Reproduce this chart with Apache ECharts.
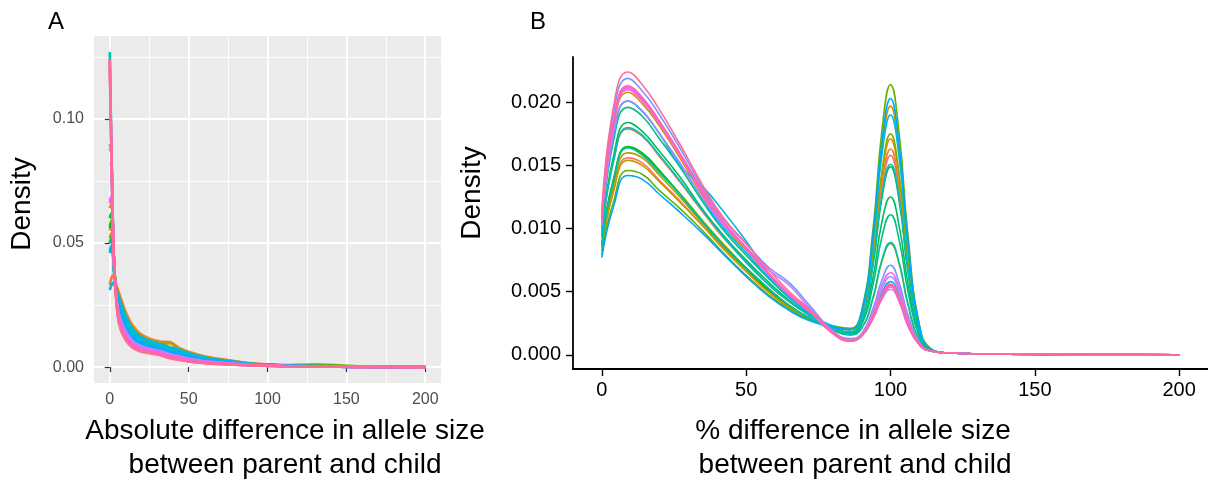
<!DOCTYPE html>
<html>
<head>
<meta charset="UTF-8">
<title>Allele size difference densities</title>
<script src="https://cdn.jsdelivr.net/npm/echarts/dist/echarts.min.js"></script>
<style>
  html, body { margin: 0; padding: 0; background: #fff; }
  #main { width: 1208px; height: 482px; }
</style>
</head>
<body>
<div id="main"></div>
<script>
// ---- panel A: absolute difference, density at these x ----
var xsA = [0, 1, 2, 3, 5, 7, 10, 14, 19, 25, 32, 38, 44, 52, 62, 75, 90, 110, 130, 160, 200];
var a01 = [0.055, 0.057, 0.051, 0.037, 0.0276, 0.0231, 0.0182, 0.0139, 0.0110, 0.0093, 0.0082, 0.0070, 0.0060, 0.0044, 0.0031, 0.0022, 0.0012, 0.0006, 0.0003, 0.0002, 0];
var a02 = [0.033, 0.036, 0.037, 0.035, 0.0315, 0.0278, 0.0224, 0.0173, 0.0136, 0.0115, 0.0103, 0.0101, 0.0077, 0.0058, 0.0041, 0.0028, 0.0015, 0.0007, 0.0004, 0.0002, 0];
var a03 = [0.064, 0.066, 0.054, 0.038, 0.0293, 0.0251, 0.0200, 0.0154, 0.0121, 0.0103, 0.0092, 0.0096, 0.0072, 0.0050, 0.0040, 0.0025, 0.0013, 0.0006, 0.0004, 0.0002, 0];
var a04 = [0.050, 0.052, 0.048, 0.037, 0.0304, 0.0265, 0.0212, 0.0163, 0.0129, 0.0109, 0.0098, 0.0099, 0.0074, 0.0054, 0.0038, 0.0026, 0.0014, 0.0007, 0.0004, 0.0002, 0];
var a05 = [0.052, 0.054, 0.049, 0.037, 0.0280, 0.0235, 0.0185, 0.0140, 0.0109, 0.0092, 0.0080, 0.0069, 0.0061, 0.0046, 0.0033, 0.0023, 0.0012, 0.0006, 0.0003, 0.0002, 0];
var a06 = [0.057, 0.059, 0.052, 0.037, 0.0271, 0.0224, 0.0176, 0.0134, 0.0106, 0.0090, 0.0079, 0.0067, 0.0057, 0.0042, 0.0030, 0.0021, 0.0011, 0.0006, 0.0003, 0.0002, 0];
var a07 = [0.060, 0.062, 0.053, 0.038, 0.0265, 0.0218, 0.0170, 0.0129, 0.0102, 0.0087, 0.0076, 0.0064, 0.0066, 0.0050, 0.0031, 0.0022, 0.0012, 0.0008, 0.0010, 0.0003, 0];
var a08 = [0.056, 0.058, 0.052, 0.037, 0.0265, 0.0218, 0.0170, 0.0129, 0.0102, 0.0087, 0.0076, 0.0064, 0.0055, 0.0041, 0.0029, 0.0020, 0.0011, 0.0006, 0.0003, 0.0001, 0];
var a09 = [0.060, 0.062, 0.053, 0.038, 0.0260, 0.0211, 0.0164, 0.0124, 0.0098, 0.0084, 0.0073, 0.0061, 0.0052, 0.0039, 0.0027, 0.0019, 0.0011, 0.0005, 0.0003, 0.0001, 0];
var a10 = [0.050, 0.052, 0.048, 0.037, 0.0271, 0.0224, 0.0176, 0.0134, 0.0106, 0.0090, 0.0079, 0.0067, 0.0057, 0.0042, 0.0030, 0.0021, 0.0011, 0.0006, 0.0003, 0.0002, 0];
var a11 = [0.127, 0.090, 0.057, 0.038, 0.0243, 0.0191, 0.0146, 0.0109, 0.0087, 0.0075, 0.0065, 0.0053, 0.0044, 0.0033, 0.0023, 0.0016, 0.0009, 0.0005, 0.0003, 0.0001, 0];
var a12 = [0.047, 0.049, 0.046, 0.036, 0.0282, 0.0238, 0.0188, 0.0144, 0.0113, 0.0096, 0.0084, 0.0072, 0.0062, 0.0046, 0.0033, 0.0023, 0.0012, 0.0006, 0.0003, 0.0002, 0];
var a13 = [0.031, 0.033, 0.034, 0.033, 0.0298, 0.0258, 0.0206, 0.0158, 0.0125, 0.0106, 0.0093, 0.0081, 0.0070, 0.0052, 0.0037, 0.0025, 0.0013, 0.0006, 0.0004, 0.0002, 0];
var a14 = [0.046, 0.048, 0.045, 0.036, 0.0265, 0.0218, 0.0170, 0.0129, 0.0102, 0.0087, 0.0076, 0.0064, 0.0055, 0.0041, 0.0029, 0.0020, 0.0011, 0.0006, 0.0003, 0.0001, 0];
var a15 = [0.082, 0.082, 0.057, 0.038, 0.0254, 0.0204, 0.0158, 0.0119, 0.0094, 0.0081, 0.0070, 0.0058, 0.0049, 0.0037, 0.0026, 0.0018, 0.0010, 0.0005, 0.0003, 0.0001, 0];
var a16 = [0.090, 0.086, 0.056, 0.038, 0.0232, 0.0177, 0.0134, 0.0100, 0.0079, 0.0068, 0.0059, 0.0047, 0.0039, 0.0029, 0.0020, 0.0015, 0.0009, 0.0005, 0.0002, 0.0001, 0];
var a17 = [0.067, 0.069, 0.055, 0.038, 0.0243, 0.0191, 0.0146, 0.0109, 0.0087, 0.0075, 0.0065, 0.0053, 0.0044, 0.0033, 0.0023, 0.0016, 0.0009, 0.0005, 0.0003, 0.0001, 0];
var a18 = [0.088, 0.086, 0.056, 0.038, 0.0230, 0.0175, 0.0132, 0.0099, 0.0078, 0.0067, 0.0058, 0.0046, 0.0038, 0.0028, 0.0020, 0.0014, 0.0008, 0.0004, 0.0002, 0.0001, 0];
var a19 = [0.124, 0.088, 0.056, 0.038, 0.0216, 0.0157, 0.0116, 0.0085, 0.0068, 0.0059, 0.0051, 0.0039, 0.0032, 0.0023, 0.0016, 0.0012, 0.0007, 0.0004, 0.0002, 0.0001, 0];
var a20 = [0.066, 0.068, 0.055, 0.038, 0.0227, 0.0170, 0.0128, 0.0095, 0.0075, 0.0065, 0.0056, 0.0044, 0.0037, 0.0027, 0.0019, 0.0014, 0.0008, 0.0004, 0.0002, 0.0001, 0];
var a21 = [0.121, 0.087, 0.056, 0.038, 0.0214, 0.0155, 0.0114, 0.0084, 0.0067, 0.0058, 0.0050, 0.0038, 0.0031, 0.0022, 0.0016, 0.0011, 0.0007, 0.0004, 0.0002, 0.0001, 0];
var a22 = [0.124, 0.088, 0.056, 0.038, 0.0210, 0.0150, 0.0110, 0.0080, 0.0064, 0.0056, 0.0048, 0.0036, 0.0029, 0.0021, 0.0015, 0.0011, 0.0007, 0.0004, 0.0002, 0.0001, 0];
var seriesA = [a01, a02, a03, a04, a05, a06, a07, a08, a09, a10, a11, a12, a13, a14, a15, a16, a17, a18, a19, a20, a21, a22];

// ---- panel B: % difference ----
var xsB = [0, 4, 9, 14, 20, 27, 35, 42, 50, 58, 65, 72, 80, 86, 90, 94, 97, 100, 103, 106, 110, 114, 120, 140, 200];
var b01 = [0.0083, 0.0130, 0.0156, 0.0152, 0.0138, 0.0122, 0.0102, 0.0085, 0.0066, 0.0050, 0.0038, 0.0029, 0.0021, 0.0018, 0.0029, 0.0076, 0.0131, 0.0158, 0.0129, 0.0072, 0.0019, 0.0004, 0.00015, 0.00005, 0];
var b02 = [0.0093, 0.0153, 0.0179, 0.0173, 0.0157, 0.0137, 0.0113, 0.0093, 0.0074, 0.0055, 0.0042, 0.0031, 0.0021, 0.0018, 0.0029, 0.0079, 0.0135, 0.0163, 0.0133, 0.0074, 0.0019, 0.0004, 0.00015, 0.00005, 0];
var b03 = [0.0105, 0.0180, 0.0208, 0.0199, 0.0181, 0.0156, 0.0126, 0.0103, 0.0083, 0.0063, 0.0047, 0.0034, 0.0021, 0.0018, 0.0030, 0.0082, 0.0142, 0.0171, 0.0140, 0.0077, 0.0020, 0.0004, 0.00015, 0.00005, 0];
var b04 = [0.0082, 0.0129, 0.0154, 0.0150, 0.0137, 0.0121, 0.0102, 0.0084, 0.0066, 0.0049, 0.0037, 0.0028, 0.0022, 0.0020, 0.0034, 0.0094, 0.0163, 0.0197, 0.0161, 0.0089, 0.0023, 0.0004, 0.00015, 0.00005, 0];
var b05 = [0.0085, 0.0134, 0.0160, 0.0156, 0.0142, 0.0125, 0.0104, 0.0086, 0.0068, 0.0051, 0.0038, 0.0029, 0.0020, 0.0016, 0.0021, 0.0045, 0.0074, 0.0088, 0.0072, 0.0040, 0.0011, 0.0003, 0.00015, 0.00005, 0];
var b06 = [0.0086, 0.0138, 0.0164, 0.0159, 0.0145, 0.0128, 0.0106, 0.0088, 0.0069, 0.0052, 0.0039, 0.0029, 0.0021, 0.0018, 0.0030, 0.0084, 0.0145, 0.0175, 0.0143, 0.0079, 0.0020, 0.0004, 0.00015, 0.00005, 0];
var b07 = [0.0079, 0.0121, 0.0146, 0.0143, 0.0130, 0.0116, 0.0098, 0.0081, 0.0063, 0.0047, 0.0036, 0.0028, 0.0023, 0.0021, 0.0035, 0.0101, 0.0177, 0.0214, 0.0175, 0.0096, 0.0024, 0.0005, 0.00015, 0.00005, 0];
var b08 = [0.0088, 0.0139, 0.0165, 0.0160, 0.0146, 0.0127, 0.0105, 0.0087, 0.0068, 0.0051, 0.0039, 0.0029, 0.0021, 0.0018, 0.0028, 0.0072, 0.0124, 0.0149, 0.0122, 0.0067, 0.0018, 0.0004, 0.00015, 0.00005, 0];
var b09 = [0.0095, 0.0157, 0.0184, 0.0177, 0.0161, 0.0141, 0.0115, 0.0095, 0.0075, 0.0057, 0.0043, 0.0032, 0.0021, 0.0017, 0.0025, 0.0062, 0.0105, 0.0125, 0.0102, 0.0057, 0.0015, 0.0003, 0.00015, 0.00005, 0];
var b10 = [0.0100, 0.0169, 0.0196, 0.0189, 0.0171, 0.0149, 0.0121, 0.0099, 0.0079, 0.0060, 0.0045, 0.0033, 0.0020, 0.0016, 0.0024, 0.0056, 0.0093, 0.0111, 0.0091, 0.0051, 0.0014, 0.0003, 0.00015, 0.00005, 0];
var b11 = [0.0086, 0.0137, 0.0164, 0.0158, 0.0144, 0.0127, 0.0105, 0.0087, 0.0069, 0.0052, 0.0039, 0.0029, 0.0020, 0.0016, 0.0021, 0.0046, 0.0075, 0.0089, 0.0073, 0.0041, 0.0011, 0.0003, 0.00015, 0.00005, 0];
var b12 = [0.0094, 0.0153, 0.0180, 0.0174, 0.0158, 0.0138, 0.0114, 0.0094, 0.0073, 0.0055, 0.0042, 0.0031, 0.0021, 0.0018, 0.0028, 0.0073, 0.0126, 0.0151, 0.0124, 0.0068, 0.0018, 0.0004, 0.00015, 0.00005, 0];
var b13 = [0.0102, 0.0174, 0.0201, 0.0193, 0.0175, 0.0150, 0.0133, 0.0114, 0.0090, 0.0064, 0.0046, 0.0033, 0.0023, 0.0020, 0.0033, 0.0091, 0.0158, 0.0190, 0.0156, 0.0086, 0.0022, 0.0004, 0.00015, 0.00005, 0];
var b14 = [0.0102, 0.0174, 0.0201, 0.0193, 0.0175, 0.0152, 0.0123, 0.0101, 0.0081, 0.0061, 0.0046, 0.0033, 0.0018, 0.0012, 0.0015, 0.0031, 0.0049, 0.0058, 0.0047, 0.0026, 0.0008, 0.0003, 0.00015, 0.00005, 0];
var b15 = [0.0077, 0.0117, 0.0142, 0.0139, 0.0127, 0.0113, 0.0096, 0.0080, 0.0062, 0.0046, 0.0035, 0.0027, 0.0022, 0.0020, 0.0034, 0.0096, 0.0168, 0.0203, 0.0166, 0.0091, 0.0023, 0.0004, 0.00015, 0.00005, 0];
var b16 = [0.0110, 0.0191, 0.0219, 0.0209, 0.0190, 0.0164, 0.0132, 0.0108, 0.0088, 0.0069, 0.0057, 0.0039, 0.0019, 0.0013, 0.0017, 0.0037, 0.0059, 0.0071, 0.0057, 0.0032, 0.0010, 0.0003, 0.00015, 0.00005, 0];
var b17 = [0.0102, 0.0174, 0.0201, 0.0193, 0.0175, 0.0152, 0.0124, 0.0103, 0.0085, 0.0067, 0.0055, 0.0037, 0.0019, 0.0012, 0.0016, 0.0033, 0.0052, 0.0062, 0.0050, 0.0028, 0.0009, 0.0003, 0.00015, 0.00005, 0];
var b18 = [0.0106, 0.0183, 0.0210, 0.0201, 0.0183, 0.0158, 0.0128, 0.0104, 0.0084, 0.0063, 0.0047, 0.0034, 0.0017, 0.0011, 0.0015, 0.0029, 0.0044, 0.0052, 0.0042, 0.0023, 0.0008, 0.0003, 0.00015, 0.00005, 0];
var b19 = [0.0107, 0.0184, 0.0212, 0.0203, 0.0184, 0.0159, 0.0128, 0.0105, 0.0084, 0.0064, 0.0048, 0.0035, 0.0018, 0.0012, 0.0016, 0.0034, 0.0055, 0.0065, 0.0053, 0.0029, 0.0009, 0.0003, 0.00015, 0.00005, 0];
var b20 = [0.0106, 0.0182, 0.0211, 0.0202, 0.0184, 0.0159, 0.0129, 0.0105, 0.0084, 0.0063, 0.0047, 0.0034, 0.0017, 0.0011, 0.0015, 0.0030, 0.0046, 0.0055, 0.0044, 0.0025, 0.0008, 0.0003, 0.00015, 0.00005, 0];
var b21 = [0.0108, 0.0185, 0.0213, 0.0204, 0.0185, 0.0160, 0.0130, 0.0106, 0.0085, 0.0064, 0.0048, 0.0035, 0.0017, 0.0011, 0.0015, 0.0029, 0.0045, 0.0054, 0.0043, 0.0024, 0.0008, 0.0003, 0.00015, 0.00005, 0];
var b22 = [0.0112, 0.0196, 0.0224, 0.0214, 0.0194, 0.0167, 0.0134, 0.0109, 0.0088, 0.0067, 0.0050, 0.0036, 0.0018, 0.0011, 0.0015, 0.0030, 0.0047, 0.0056, 0.0045, 0.0025, 0.0008, 0.0003, 0.00015, 0.00005, 0];
var seriesB = [b01, b02, b03, b04, b05, b06, b07, b08, b09, b10, b11, b12, b13, b14, b15, b16, b17, b18, b19, b20, b21, b22];

var xTicks = [0, 50, 100, 150, 200];
var xMinor = [25, 75, 125, 175];
var yTicksA = [0, 0.05, 0.10];
var yMinorA = [0.025, 0.075, 0.125];
var yTicksB = [0, 0.005, 0.010, 0.015, 0.020];

var FONT = '"Liberation Sans", Arial, sans-serif';

// ggplot-style hue palette (hcl, c=100, l=65)
function hcl(h, c, l) {
    var hr = h * Math.PI / 180;
    var U = c * Math.cos(hr), V = c * Math.sin(hr);
    var Y = Math.pow((l + 16) / 116, 3);
    var Xn = 0.95047, Yn = 1, Zn = 1.08883;
    var d = Xn + 15 * Yn + 3 * Zn;
    var un = 4 * Xn / d, vn = 9 * Yn / d;
    var up = U / (13 * l) + un, vp = V / (13 * l) + vn;
    var X = Y * 9 * up / (4 * vp);
    var Z = Y * (12 - 3 * up - 20 * vp) / (4 * vp);
    var rgb = [
        3.240479 * X - 1.537150 * Y - 0.498535 * Z,
        -0.969256 * X + 1.875992 * Y + 0.041556 * Z,
        0.055648 * X - 0.204043 * Y + 1.057311 * Z
    ];
    return '#' + rgb.map(function (v) {
        v = v <= 0.0031308 ? 12.92 * v : 1.055 * Math.pow(v, 1 / 2.4) - 0.055;
        v = Math.round(Math.max(0, Math.min(1, v)) * 255);
        return (v < 16 ? '0' : '') + v.toString(16);
    }).join('');
}
var n = seriesA.length;
var colors = [];
for (var i = 0; i < n; i++) colors.push(hcl(15 + i * 360 / n, 100, 65));

function pairs(xs, ys) {
    return xs.map(function (x, i) { return [x, ys[i]]; });
}

var series = [];
seriesA.forEach(function (ys, i) {
    series.push({
        type: 'line', xAxisIndex: 0, yAxisIndex: 0,
        data: pairs(xsA, ys), showSymbol: false, symbol: 'none',
        smooth: 0.3,
        lineStyle: { color: colors[i], width: 2.6 }, itemStyle: { color: colors[i] }
    });
});
seriesB.forEach(function (ys, i) {
    series.push({
        type: 'line', xAxisIndex: 2, yAxisIndex: 2,
        data: pairs(xsB, ys), showSymbol: false, symbol: 'none',
        smooth: 0.5,
        lineStyle: { color: colors[i], width: 1.6 }, itemStyle: { color: colors[i] }
    });
});

var chart = echarts.init(document.getElementById('main'));

var option = {
    animation: false,
    backgroundColor: '#ffffff',
    textStyle: { fontFamily: FONT },
    grid: [
        { left: 94, top: 36, width: 347, height: 347, show: true, backgroundColor: '#EBEBEB', borderWidth: 0, containLabel: false, outerBoundsMode: 'none' },
        { left: 573, top: 57, width: 635, height: 312, containLabel: false, outerBoundsMode: 'none' }
    ],
    xAxis: [
        {
            gridIndex: 0, type: 'value', min: -10, max: 210, position: 'bottom',
            axisLine: { show: false },
            axisTick: { show: true, length: 5, customValues: xTicks, lineStyle: { color: '#333333', width: 1.2 } },
            axisLabel: { customValues: xTicks, color: '#4D4D4D', fontSize: 16, margin: 9, fontFamily: FONT },
            splitLine: { show: true, lineStyle: { color: '#ffffff', width: 1.8 } }
        },
        {
            gridIndex: 0, type: 'value', min: -10, max: 210, position: 'top',
            axisLine: { show: false },
            axisTick: { show: false, customValues: xMinor },
            axisLabel: { show: false },
            splitLine: { show: true, lineStyle: { color: '#ffffff', width: 0.9 } }
        },
        {
            gridIndex: 1, type: 'value', min: -10, max: 210, position: 'bottom',
            axisLine: { show: true, onZero: false, lineStyle: { color: '#000000', width: 1.8 } },
            axisTick: { show: true, length: 7, customValues: xTicks, lineStyle: { color: '#000000', width: 1.4 } },
            axisLabel: { customValues: xTicks, color: '#000000', fontSize: 20, margin: 11, fontFamily: FONT },
            splitLine: { show: false }
        }
    ],
    yAxis: [
        {
            gridIndex: 0, type: 'value', min: -0.0064, max: 0.1334, position: 'left',
            axisLine: { show: false },
            axisTick: { show: true, length: 5, customValues: yTicksA, lineStyle: { color: '#333333', width: 1.2 } },
            axisLabel: {
                customValues: yTicksA, color: '#4D4D4D', fontSize: 16, margin: 10, fontFamily: FONT,
                formatter: function (v) { return v.toFixed(2); }
            },
            splitLine: { show: true, lineStyle: { color: '#ffffff', width: 1.8 } }
        },
        {
            gridIndex: 0, type: 'value', min: -0.0064, max: 0.1334, position: 'right',
            axisLine: { show: false },
            axisTick: { show: false, customValues: yMinorA },
            axisLabel: { show: false },
            splitLine: { show: true, lineStyle: { color: '#ffffff', width: 0.9 } }
        },
        {
            gridIndex: 1, type: 'value', min: -0.00112, max: 0.02359, position: 'left',
            axisLine: { show: true, onZero: false, lineStyle: { color: '#000000', width: 1.8 } },
            axisTick: { show: true, length: 7, customValues: yTicksB, lineStyle: { color: '#000000', width: 1.4 } },
            axisLabel: {
                customValues: yTicksB, color: '#000000', fontSize: 20, margin: 12, fontFamily: FONT,
                formatter: function (v) { return v.toFixed(3); }
            },
            splitLine: { show: false }
        }
    ],
    graphic: [
        { type: 'text', x: 48, y: 22, style: { text: 'A', fill: '#000', font: '24px ' + FONT, verticalAlign: 'middle' } },
        { type: 'text', x: 530, y: 22, style: { text: 'B', fill: '#000', font: '24px ' + FONT, verticalAlign: 'middle' } },
        { type: 'text', x: 22, y: 204, rotation: Math.PI / 2, style: { text: 'Density', fill: '#000', font: '28px ' + FONT, align: 'center', verticalAlign: 'middle' } },
        { type: 'text', x: 472, y: 193, rotation: Math.PI / 2, style: { text: 'Density', fill: '#000', font: '28px ' + FONT, align: 'center', verticalAlign: 'middle' } },
        { type: 'text', x: 285, y: 431, style: { text: 'Absolute difference in allele size', fill: '#000', font: '28px ' + FONT, align: 'center', verticalAlign: 'middle' } },
        { type: 'text', x: 285, y: 465, style: { text: 'between parent and child', fill: '#000', font: '28px ' + FONT, align: 'center', verticalAlign: 'middle' } },
        { type: 'text', x: 853, y: 431, style: { text: '% difference in allele size', fill: '#000', font: '28px ' + FONT, align: 'center', verticalAlign: 'middle' } },
        { type: 'text', x: 855, y: 465, style: { text: 'between parent and child', fill: '#000', font: '28px ' + FONT, align: 'center', verticalAlign: 'middle' } }
    ],
    series: series
};

chart.setOption(option);
</script>
</body>
</html>
